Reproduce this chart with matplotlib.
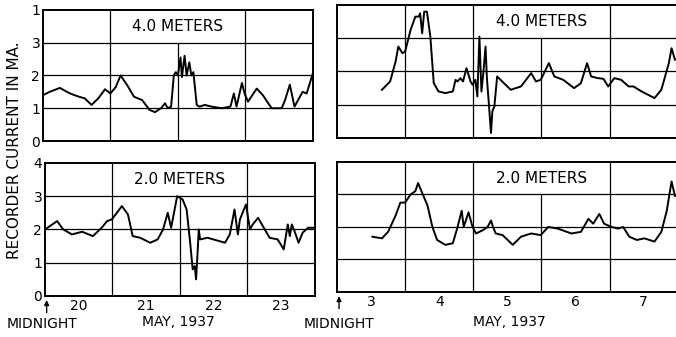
import matplotlib.pyplot as plt

# time is in days from the midnight arrow, current in ma.
# top left: 4.0 meters, may 20-23
tl_t = [0.00, 0.10, 0.25, 0.40, 0.52, 0.62, 0.72, 0.82, 0.92, 1.00, 1.08, 1.15,
        1.25, 1.35, 1.47, 1.58, 1.66, 1.75, 1.81, 1.85, 1.90, 1.94, 1.97, 2.00,
        2.04, 2.06, 2.10, 2.13, 2.17, 2.20, 2.23, 2.28, 2.32, 2.40, 2.50, 2.65,
        2.78, 2.83, 2.87, 2.95, 2.99, 3.04, 3.17, 3.26, 3.39, 3.54, 3.59, 3.66,
        3.73, 3.85, 3.91, 4.00]
tl_v = [1.40, 1.50, 1.62, 1.45, 1.36, 1.30, 1.10, 1.30, 1.58, 1.45, 1.65, 2.00,
        1.70, 1.35, 1.25, 0.95, 0.88, 1.00, 1.15, 1.00, 1.05, 2.00, 2.10, 2.00,
        2.55, 1.95, 2.60, 2.00, 2.40, 2.00, 2.10, 1.10, 1.05, 1.10, 1.05, 1.00,
        1.05, 1.45, 1.05, 1.77, 1.45, 1.20, 1.60, 1.40, 1.00, 1.00, 1.25, 1.72,
        1.05, 1.50, 1.45, 2.05]

# bottom left: 2.0 meters, may 20-23
bl_t = [0.00, 0.18, 0.27, 0.40, 0.55, 0.71, 0.84, 0.92, 0.99, 1.14, 1.23, 1.30,
        1.41, 1.56, 1.67, 1.75, 1.82, 1.87, 1.96, 2.04, 2.10, 2.15, 2.19, 2.22,
        2.24, 2.26, 2.28, 2.30, 2.41, 2.67, 2.74, 2.81, 2.86, 2.89, 2.93, 2.98,
        3.04, 3.08, 3.16, 3.23, 3.33, 3.45, 3.54, 3.60, 3.63, 3.66, 3.70, 3.76,
        3.82, 3.90, 4.00]
bl_v = [2.00, 2.25, 2.00, 1.85, 1.93, 1.80, 2.05, 2.25, 2.30, 2.70, 2.45, 1.80,
        1.75, 1.60, 1.70, 2.00, 2.50, 2.05, 3.00, 2.90, 2.60, 1.65, 0.80, 0.90,
        0.50, 1.20, 2.00, 1.70, 1.75, 1.60, 1.85, 2.60, 1.85, 2.30, 2.50, 2.75,
        2.00, 2.15, 2.35, 2.10, 1.75, 1.70, 1.40, 2.15, 1.80, 2.15, 1.95, 1.60,
        1.90, 2.05, 2.05]

# top right: 4.0 meters, may 3-7
tr_t = [0.66, 0.78, 0.86, 0.90, 0.96, 1.00, 1.08, 1.15, 1.20, 1.22, 1.25, 1.28,
        1.32, 1.37, 1.42, 1.49, 1.59, 1.70, 1.74, 1.77, 1.81, 1.85, 1.90, 1.93,
        1.96, 1.99, 2.03, 2.06, 2.09, 2.12, 2.15, 2.18, 2.20, 2.23, 2.26, 2.28,
        2.31, 2.35, 2.40, 2.55, 2.70, 2.85, 2.92, 2.99, 3.11, 3.19, 3.32, 3.48,
        3.58, 3.67, 3.73, 3.83, 3.91, 3.98, 4.07, 4.17, 4.28, 4.35, 4.47, 4.66,
        4.76, 4.87, 4.91, 4.96, 5.00]
tr_v = [1.45, 1.70, 2.30, 2.75, 2.55, 2.60, 3.25, 3.65, 3.65, 3.75, 3.15, 3.80,
        3.80, 3.05, 1.65, 1.40, 1.35, 1.40, 1.75, 1.70, 1.80, 1.70, 2.10, 1.90,
        1.70, 1.60, 1.75, 1.25, 3.05, 1.40, 2.00, 2.75, 1.80, 1.00, 0.15, 0.80,
        0.95, 1.85, 1.75, 1.45, 1.55, 1.95, 1.70, 1.75, 2.25, 1.85, 1.75, 1.50,
        1.65, 2.25, 1.85, 1.80, 1.78, 1.55, 1.80, 1.75, 1.55, 1.55, 1.40, 1.20,
        1.45, 2.25, 2.70, 2.35, 2.40]

# bottom right: 2.0 meters, may 3-7
br_t = [0.52, 0.66, 0.75, 0.86, 0.93, 1.00, 1.08, 1.15, 1.19, 1.25, 1.33, 1.40,
        1.47, 1.59, 1.70, 1.77, 1.83, 1.86, 1.93, 1.99, 2.04, 2.14, 2.21, 2.26,
        2.29, 2.33, 2.43, 2.58, 2.70, 2.85, 2.99, 3.10, 3.24, 3.44, 3.58, 3.69,
        3.76, 3.85, 3.92, 4.03, 4.13, 4.20, 4.29, 4.40, 4.51, 4.66, 4.76, 4.84,
        4.91, 4.96, 5.00]
br_v = [1.70, 1.65, 1.85, 2.35, 2.75, 2.75, 3.00, 3.10, 3.35, 3.05, 2.65, 2.00,
        1.60, 1.45, 1.50, 2.00, 2.50, 2.00, 2.45, 2.00, 1.80, 1.90, 2.00, 2.20,
        2.00, 1.80, 1.75, 1.45, 1.70, 1.80, 1.75, 2.00, 1.95, 1.80, 1.85, 2.25,
        2.10, 2.40, 2.10, 2.00, 1.95, 2.00, 1.70, 1.60, 1.65, 1.55, 1.85, 2.50,
        3.40, 2.95, 3.00]

left_days = ['20', '21', '22', '23']
right_days = ['3', '4', '5', '6', '7']
top_yticks = ['0', '1', '2', '3', '1']
bottom_yticks = ['0', '1', '2', '3', '4']

plt.rcParams['font.family'] = 'DejaVu Sans'
fig = plt.figure(figsize=(6.76, 3.37), dpi=100)


def panel(rect, t, v, days, label, box_day, yticks=None):
    ax = fig.add_axes(rect)
    ndays = len(days)
    ax.set_xlim(0, ndays)
    ax.set_ylim(0, 4)
    for y in (1, 2, 3):
        ax.axhline(y, color='black', lw=0.9)
    for d in range(1, ndays):
        ax.axvline(d, ymax=0.75 if d == box_day else 1, color='black', lw=0.9)
    ax.plot(t, v, color='black', lw=1.4)
    ax.text(box_day, 3.5, label, ha='center', va='center', fontsize=11)
    for s in ax.spines.values():
        s.set_linewidth(1.4)
    ax.tick_params(length=0, labelsize=10, pad=2)
    ax.set_xticks([d + 0.5 for d in range(ndays)])
    ax.set_xticklabels(days)
    if yticks is None:
        ax.set_yticks([])
    else:
        ax.set_yticks(range(5))
        ax.set_yticklabels(yticks)
    return ax


ax1 = panel([0.0636, 0.5816, 0.399, 0.389], tl_t, tl_v, left_days, '4.0 METERS', 2, top_yticks)
ax2 = panel([0.0666, 0.1217, 0.399, 0.395], bl_t, bl_v, left_days, '2.0 METERS', 2, bottom_yticks)
ax3 = panel([0.4985, 0.5905, 0.504, 0.3947], tr_t, tr_v, right_days, '4.0 METERS', 3)
ax4 = panel([0.4985, 0.1335, 0.504, 0.386], br_t, br_v, right_days, '2.0 METERS', 3)
ax1.set_xticklabels([])
ax3.set_xticklabels([])
ax3.spines['right'].set_visible(False)
ax4.spines['right'].set_visible(False)

fig.text(15 / 676, 0.555, 'RECORDER CURRENT IN MA.', rotation=90,
         ha='center', va='center', fontsize=11)

# midnight arrows and the captions under the bottom panels
for ax, x_mid, x_may in ((ax2, 42, 178), (ax4, 339, 509)):
    ax.annotate('', xy=(0.006, -0.01), xycoords='axes fraction',
                xytext=(0, -13), textcoords='offset points',
                arrowprops=dict(arrowstyle='-|>', color='black', lw=1, mutation_scale=7))
    fig.text(x_mid / 676, 1 - 324 / 337, 'MIDNIGHT', ha='center', va='center', fontsize=10)
    fig.text(x_may / 676, 1 - 322 / 337, 'MAY, 1937', ha='center', va='center', fontsize=10)

plt.savefig('out.png', dpi=100)
